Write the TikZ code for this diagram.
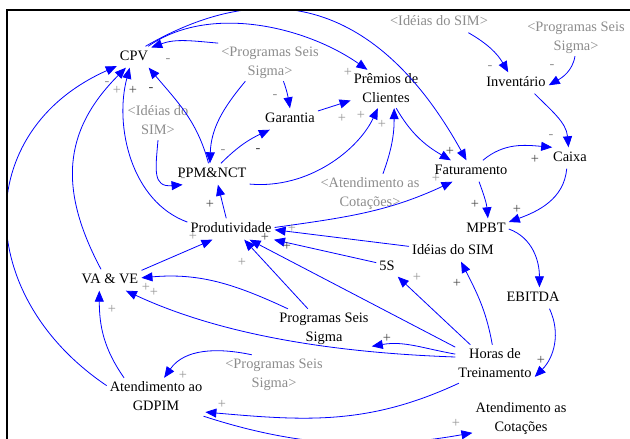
\documentclass[tikz,border=0pt]{standalone}
\usepackage{fontspec}
\setmainfont{Liberation Serif}
\usetikzlibrary{arrows.meta}
\definecolor{vblue}{RGB}{0,0,255}
\definecolor{shadowtxt}{RGB}{140,140,140}
\definecolor{lsign}{RGB}{150,150,150}
\definecolor{dsign}{RGB}{70,70,70}
\begin{document}
\begin{tikzpicture}[x=1pt,y=1pt,
  var/.style={font=\fontsize{14.4}{19}\selectfont, align=center, text height=10pt, text depth=3pt, inner xsep=3pt, inner ysep=4pt},
  vartwo/.style={font=\fontsize{14.4}{19}\selectfont, align=center, inner xsep=3pt, inner ysep=0pt},
  shad/.style={var, text=shadowtxt},
  shadtwo/.style={vartwo, text=shadowtxt},
  arr/.style={draw=vblue, line width=0.8pt, -{Triangle[length=11pt,width=9pt]}},
  pol/.style={font=\fontsize{14.4}{14.4}\selectfont, inner sep=0pt, text=lsign},
  dpol/.style={pol, text=dsign}]
\useasboundingbox (0,0) rectangle (630,-439);
% variables
\node[var] (cpv) at (134,-57) {CPV};
\node[vartwo] (premios) at (386,-89) {\strut Prêmios de\\\strut Clientes};
\node[var] (inv) at (516,-83) {Inventário};
\node[var] (garantia) at (290,-119) {Garantia};
\node[var] (caixa) at (570,-158) {Caixa};
\node[var] (ppm) at (212,-174) {PPM\&NCT};
\node[var] (fat) at (471,-171) {Faturamento};
\node[var] (prod) at (231,-229) {Produtividade};
\node[var] (mpbt) at (486,-229) {MPBT};
\node[var] (ideias) at (453,-251) {Idéias do SIM};
\node[var] (s5) at (387,-267) {5S};
\node[var] (vave) at (110,-280) {VA \& VE};
\node[var] (ebitda) at (533,-298) {EBITDA};
\node[vartwo] (pss) at (324,-328) {\strut Programas Seis\\\strut Sigma};
\node[vartwo] (horas) at (495,-364) {\strut Horas de\\\strut Treinamento};
\node[vartwo] (gdpim) at (156,-397) {\strut Atendimento ao\\\strut GDPIM};
\node[vartwo] (cot) at (521,-418) {\strut Atendimento as\\\strut Cotações};
% shadow variables
\node[shadtwo] (gp1) at (270,-62) {\strut <Programas Seis\\\strut Sigma>};
\node[shad] (gi1) at (439,-22) {<Idéias do SIM>};
\node[shadtwo] (gp2) at (576,-37) {\strut <Programas Seis\\\strut Sigma>};
\node[shadtwo] (gi2) at (158,-121) {\strut <Idéias do\\\strut SIM>};
\node[shadtwo] (gcot) at (370,-193) {\strut <Atendimento as\\\strut Cotações>};
\node[shadtwo] (gp3) at (274,-374) {\strut <Programas Seis\\\strut Sigma>};
% connectors
\begin{scope}
\clip (7,-10) rectangle (630,-439);
\draw[arr] (gp1.160) to[out=175,in=20] (cpv.29);
\draw[arr] (cpv.37) to[out=35,in=145,out distance=75,in distance=75] (premios.134);
\draw[arr] (cpv.43) to[out=30,in=119,out distance=170,in distance=150] (fat.113);
\draw[arr] (gp1.218) to[out=230,in=88] (ppm.101);
\draw[arr] (gp1.-55) to[out=-70,in=100] (garantia.90);
\draw[arr] (ppm.50) to[out=45,in=205] (garantia.208);
\draw[arr] (garantia.16) -- (premios.198);
\draw[arr] (ppm.-15) to[out=-5,in=245,out distance=60,in distance=45] (premios.247);
\draw[arr] (gcot.56) to[out=70,in=-90] (premios.-67);
\draw[arr] (premios.-62) to[out=-60,in=150] (fat.152);
\draw[arr] (prod.2) to[out=8,in=205] (fat.210);
\draw[arr] (ideias.174) -- (prod.-1);
\draw[arr] (s5.158) -- (prod.-14);
\draw[arr] (pss.130) -- (prod.-39);
\draw[arr] (vave.17) -- (prod.210);
\draw[arr] (pss.152) to[out=155,in=5] (vave.4);
\draw[arr] (horas.170) to[out=178,in=-25,out distance=130,in distance=100] (vave.-34);
\draw[arr] (horas.166) to[out=170,in=10] (pss.-21);
\draw[arr] (horas.142) -- (s5.-42);
\draw[arr] (horas.98) to[out=100,in=-63] (ideias.-53);
\draw[arr] (horas.157) -- (prod.-30);
\draw[arr] (ebitda.-33) to[out=-65,in=45] (horas.-18);
\draw[arr] (mpbt.0) to[out=-20,in=90] (ebitda.59);
\draw[arr] (caixa.253) to[out=-95,in=20] (mpbt.17);
\draw[arr] (fat.-53) to[out=-70,in=95] (mpbt.80);
\draw[arr] (fat.42) to[out=40,in=175] (caixa.149);
\draw[arr] (inv.-30) to[out=-45,in=95] (caixa.98);
\draw[arr] (gi1.-20) to[out=-30,in=120] (inv.126);
\draw[arr] (gp2.-93) to[out=-100,in=30] (inv.-4);
\draw[arr] (prod.114) -- (ppm.-61);
\draw[arr] (ppm.108) to[out=105,in=-50] (cpv.-36);
\draw[arr] (prod.171) to[out=160,in=-105,out distance=60,in distance=60] (cpv.248);
\draw[arr] (vave.130) to[out=118,in=-135,out distance=90,in distance=90] (cpv.233);
\draw[arr] (gdpim.167) to[out=146,in=-156,out distance=160,in distance=160] (cpv.208);
\draw[arr] (gi2.-90) to[out=-95,in=185,out distance=30,in distance=30] (ppm.200);
\draw[arr] (gdpim.149) to[out=125,in=-90] (vave.225);
\draw[arr] (gp3.139) to[out=168,in=55] (gdpim.67);
\draw[arr] (horas.208) to[out=205,in=-5,out distance=100,in distance=100] (gdpim.-17);
\draw[arr] (gdpim.-22) to[out=-18,in=190,out distance=100,in distance=100] (cot.197);
\end{scope}
% polarity signs
\node[pol] (p1) at (168,-61) {-};
\node[pol] (p2) at (348,-72) {+};
\node[dpol] (p3) at (450,-151) {+};
\node[pol] (p4) at (223,-152) {-};
\node[pol] (p5) at (275,-97) {-};
\node[dpol] (p6) at (258,-151) {-};
\node[pol] (p7) at (342,-118) {+};
\node[pol] (p8) at (361,-115) {+};
\node[pol] (p9) at (382,-124) {+};
\node[pol] (p10) at (436,-178) {+};
\node[pol] (p11) at (292,-228) {+};
\node[dpol] (p12) at (265,-237) {+};
\node[dpol] (p13) at (287,-246) {+};
\node[pol] (p14) at (242,-262) {+};
\node[pol] (p15) at (193,-236) {+};
\node[pol] (p16) at (146,-287) {+};
\node[pol] (p17) at (154,-292) {+};
\node[dpol] (p18) at (387,-338) {+};
\node[pol] (p19) at (417,-277) {+};
\node[dpol] (p20) at (457,-283) {+};
\node[dpol] (p21) at (541,-360) {+};
\node[dpol] (p22) at (517,-209) {+};
\node[dpol] (p23) at (475,-204) {+};
\node[dpol] (p24) at (535,-159) {+};
\node[pol] (p25) at (551,-137) {-};
\node[pol] (p26) at (490,-68) {-};
\node[pol] (p27) at (552,-67) {-};
\node[dpol] (p28) at (210,-204) {+};
\node[pol] (p29) at (107,-84) {-};
\node[pol] (p30) at (117,-90) {+};
\node[dpol] (p31) at (133,-90) {+};
\node[dpol] (p32) at (151,-90) {-};
\node[pol] (p33) at (183,-180) {-};
\node[pol] (p34) at (112,-309) {+};
\node[pol] (p35) at (183,-375) {+};
\node[pol] (p36) at (222,-404) {+};
\node[pol] (p37) at (456,-423) {+};
% frame
\draw[line width=2pt] (7,-439) -- (7,-10) -- (630,-10);
\end{tikzpicture}
\end{document}
